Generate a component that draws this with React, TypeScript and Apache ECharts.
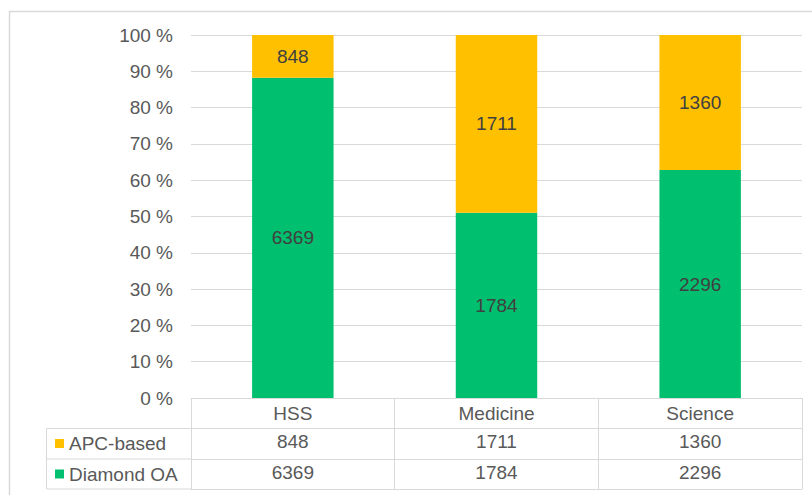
import React, { useEffect, useRef } from "react";
import * as echarts from "echarts";

const categories = ["HSS", "Medicine", "Science"];
const apcBased = [848, 1711, 1360];
const diamondOA = [6369, 1784, 2296];
const seriesNames = ["APC-based", "Diamond OA"];
const yTicks = { min: 0, max: 100, interval: 10 };

const GREEN = "#00BF6F";
const YELLOW = "#FFC000";
const TEXT = "#595959";
const LINE = "#D9D9D9";
const FONT = "'Liberation Sans', Arial, sans-serif";
const FS = 19;

export default function App() {
  const ref = useRef<HTMLDivElement>(null);
  useEffect(() => {
    document.body.style.margin = "0";
    const chart = echarts.init(ref.current!, undefined, { renderer: "svg" });
    const totals = categories.map((_, i) => apcBased[i] + diamondOA[i]);
    const pct = (arr: number[]) =>
      arr.map((v, i) => ({ value: (v / totals[i]) * 100, raw: v }));

    const gridLeft = 191;
    const gridRight = 802;
    const axisY = 398;
    const rowH = 30.5;

    const tableAxis = (offset: number, labels: string[] | null, margin: number) => ({
      type: "category",
      position: "bottom",
      offset,
      data: labels ?? categories.map(() => ""),
      boundaryGap: true,
      axisLine: { show: true, lineStyle: { color: LINE, width: 1 } },
      axisTick: { show: false },
      axisLabel: {
        show: !!labels,
        color: TEXT,
        fontSize: FS,
        fontFamily: FONT,
        margin,
      },
      splitLine: { show: false },
    });

    const legendText = { color: TEXT, fontSize: FS, fontFamily: FONT, lineHeight: FS };
    const legendBase = {
      orient: "vertical",
      left: 55,
      padding: 0,
      itemWidth: 9,
      itemHeight: 9,
      icon: "rect",
      selectedMode: false,
      textStyle: legendText,
    };

    const barLabel = {
      show: true,
      position: "inside",
      color: "#404040",
      fontSize: FS,
      fontFamily: FONT,
      formatter: (p: any) => String(p.data.raw),
    };

    chart.setOption({
      animation: false,
      textStyle: { fontFamily: FONT },
      grid: { left: gridLeft, right: 812 - gridRight, top: 35, bottom: 495 - axisY, containLabel: false },
      legend: [
        { ...legendBase, top: 443.5 - FS / 2, data: [seriesNames[0]] },
        { ...legendBase, top: 474 - FS / 2, data: [seriesNames[1]] },
      ],
      xAxis: [
        {
          type: "category",
          position: "bottom",
          data: categories,
          boundaryGap: true,
          axisLine: { show: true, lineStyle: { color: LINE, width: 1 } },
          axisTick: { show: true, length: 91, alignWithLabel: false, lineStyle: { color: LINE, width: 1 } },
          axisLabel: { color: TEXT, fontSize: FS, fontFamily: FONT, margin: 6 },
        },
        tableAxis(rowH, apcBased.map(String), 3.5),
        tableAxis(rowH * 2, diamondOA.map(String), 4),
        tableAxis(rowH * 3 - 0.5, null, 4),
      ],
      yAxis: {
        type: "value",
        min: yTicks.min,
        max: yTicks.max,
        interval: yTicks.interval,
        axisLine: { show: false },
        axisTick: { show: false },
        axisLabel: { formatter: "{value} %", color: TEXT, fontSize: FS, fontFamily: FONT, margin: 18 },
        splitLine: { lineStyle: { color: LINE, width: 1 } },
      },
      series: [
        {
          name: seriesNames[1],
          type: "bar",
          stack: "total",
          barWidth: "40%",
          xAxisIndex: 0,
          itemStyle: { color: GREEN },
          data: pct(diamondOA),
          label: barLabel,
        },
        {
          name: seriesNames[0],
          type: "bar",
          stack: "total",
          barWidth: "40%",
          xAxisIndex: 0,
          itemStyle: { color: YELLOW },
          data: pct(apcBased),
          label: barLabel,
        },
      ],
      graphic: [
        {
          type: "rect",
          shape: { x: 9.5, y: 11.5, width: 900, height: 600 },
          style: { fill: "none", stroke: LINE, lineWidth: 1.5 },
          silent: true,
        },
        {
          type: "polyline",
          shape: {
            points: [
              [gridLeft, axisY + rowH],
              [46.5, axisY + rowH],
              [46.5, axisY + rowH * 3 - 0.5],
              [gridLeft, axisY + rowH * 3 - 0.5],
            ],
          },
          style: { fill: "none", stroke: LINE, lineWidth: 1 },
          silent: true,
        },
        {
          type: "line",
          shape: { x1: 46.5, y1: axisY + rowH * 2, x2: gridLeft, y2: axisY + rowH * 2 },
          style: { stroke: LINE, lineWidth: 1 },
          silent: true,
        },
      ],
    });
    return () => chart.dispose();
  }, []);
  return (
    <div
      ref={ref}
      style={{ position: "absolute", left: 0, top: 0, width: 812, height: 495, background: "#fff" }}
    />
  );
}
